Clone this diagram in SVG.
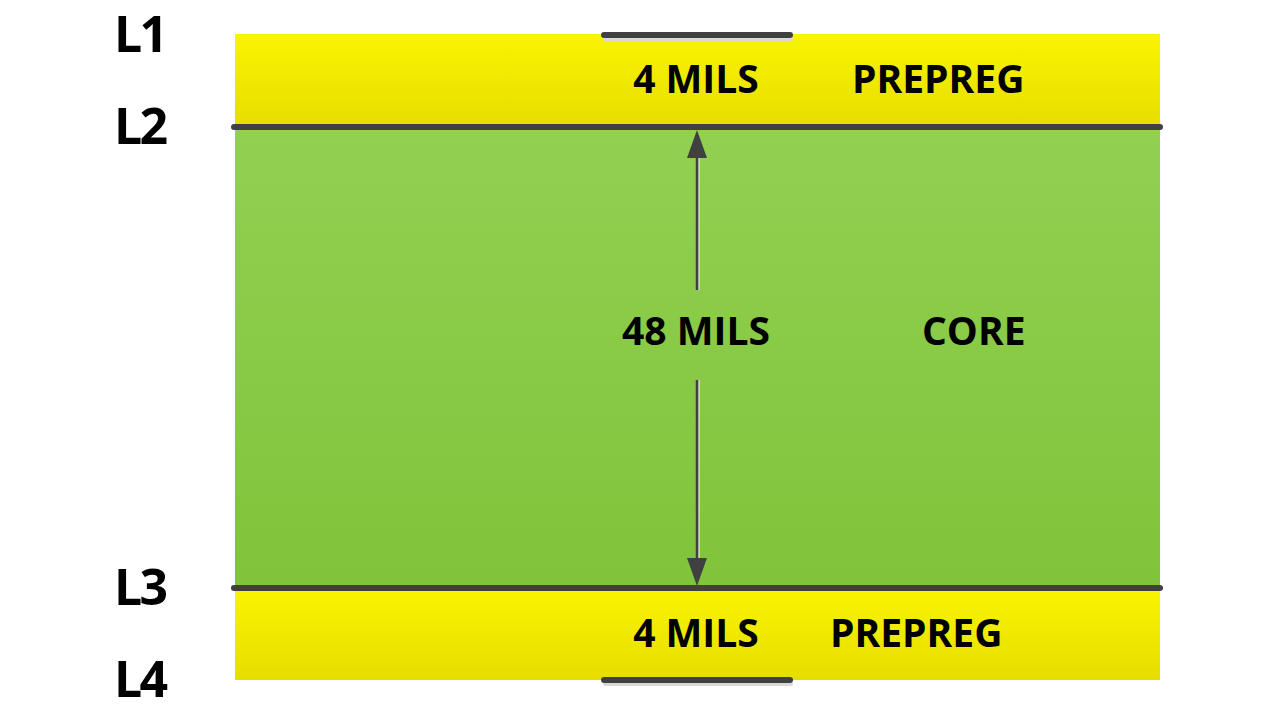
<svg xmlns="http://www.w3.org/2000/svg" width="1280" height="720" viewBox="0 0 1280 720">
<defs>
<linearGradient id="yel" x1="0" y1="0" x2="0" y2="1">
<stop offset="0" stop-color="#f9f500"/>
<stop offset="1" stop-color="#e6de00"/>
</linearGradient>
<linearGradient id="grn" x1="0" y1="0" x2="0" y2="1">
<stop offset="0" stop-color="#92d052"/>
<stop offset="1" stop-color="#7fc43a"/>
</linearGradient>
<style>
.t{font-family:"Open Sans","Liberation Sans",sans-serif;font-weight:bold;fill:#000}
.lbl{font-size:39px}
.lay{font-size:50px}
.cu{stroke:#404040;stroke-width:6;stroke-linecap:round}
.sh{stroke:#d8d8d8;stroke-width:4;stroke-linecap:round}
</style>
</defs>
<rect width="1280" height="720" fill="#fff"/>
<g id="prepreg-top">
<rect x="235" y="34" width="925" height="92" fill="url(#yel)"/>
<text class="t lbl" x="696" y="93" text-anchor="middle">4 MILS</text>
<text class="t lbl" x="852" y="93">PREPREG</text>
</g>
<g id="core">
<rect x="235" y="126" width="925" height="462" fill="url(#grn)"/>
<text class="t lbl" x="696" y="345" text-anchor="middle">48 MILS</text>
<text class="t lbl" x="922" y="345">CORE</text>
</g>
<g id="prepreg-bottom">
<rect x="235" y="588" width="925" height="92" fill="url(#yel)"/>
<text class="t lbl" x="696" y="647" text-anchor="middle">4 MILS</text>
<text class="t lbl" x="830" y="647">PREPREG</text>
</g>
<g id="copper">
<line class="sh" x1="605" y1="39" x2="791" y2="39"/>
<line class="cu" x1="604" y1="35" x2="790" y2="35"/>
<line class="cu" x1="234" y1="127" x2="1160" y2="127"/>
<line class="cu" x1="234" y1="588" x2="1160" y2="588"/>
<line class="sh" x1="605" y1="684" x2="791" y2="684"/>
<line class="cu" x1="604" y1="680" x2="790" y2="680"/>
</g>
<g id="layers">
<text class="t lay" x="114" y="52" textLength="54">L1</text>
<text class="t lay" x="114" y="144" textLength="54">L2</text>
<text class="t lay" x="114" y="605" textLength="54">L3</text>
<text class="t lay" x="114" y="697" textLength="54">L4</text>
</g>
<g id="connectors">
<line x1="699" y1="155" x2="699" y2="290" stroke="#c8d8c0" stroke-width="2"/>
<line x1="699" y1="380" x2="699" y2="560" stroke="#c8d8c0" stroke-width="2"/>
<line x1="697" y1="155" x2="697" y2="290" stroke="#404040" stroke-width="2.5"/>
<line x1="697" y1="380" x2="697" y2="562" stroke="#404040" stroke-width="2.5"/>
<polygon points="697,130 687,158 707,158" fill="#404040"/>
<polygon points="697,586 687,558 707,558" fill="#404040"/>
</g>
</svg>
